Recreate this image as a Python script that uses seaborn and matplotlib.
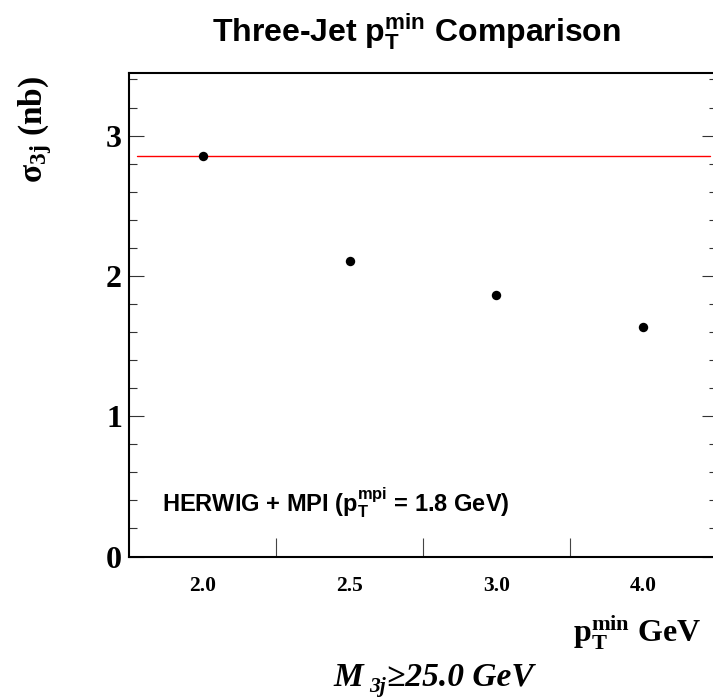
import matplotlib
matplotlib.use("Agg")
import matplotlib.pyplot as plt
import seaborn as sns
import pandas as pd
from matplotlib.ticker import MultipleLocator, FixedLocator

# ---- data ----
pt_min_labels = ["2.0", "2.5", "3.0", "4.0"]
sigma_3j = [2.855, 2.109, 1.862, 1.634]
reference_sigma = 2.853

sns.set_style("white")
plt.rcParams["text.color"] = "black"
plt.rcParams["axes.labelcolor"] = "black"
plt.rcParams["xtick.color"] = "black"
plt.rcParams["ytick.color"] = "black"
plt.rcParams["mathtext.fontset"] = "custom"
plt.rcParams["mathtext.rm"] = "Liberation Serif:bold"
plt.rcParams["mathtext.it"] = "Liberation Serif:bold:italic"
plt.rcParams["mathtext.bf"] = "Liberation Serif:bold"
plt.rcParams["mathtext.sf"] = "Liberation Sans:bold"

W, H = 713, 698
fig = plt.figure(figsize=(W / 100, H / 100), dpi=100)
ax = fig.add_axes([129 / W, 1 - 556.5 / H, (717 - 129) / W, (556.5 - 73.3) / H])

df = pd.DataFrame({"pt": pt_min_labels, "sigma": sigma_3j})
sns.scatterplot(data=df, x="pt", y="sigma", ax=ax, color="black", s=46,
                edgecolor="black", linewidth=0, zorder=3)
ax.axhline(reference_sigma, xmin=0.014, xmax=0.988, color="red", lw=1.0, zorder=2)

ax.set_xlim(-0.5, len(pt_min_labels) - 0.5)
ax.set_ylim(0, 3.444)
ax.set_xlabel("")
ax.set_ylabel("")

for side in ["left", "bottom", "top", "right"]:
    ax.spines[side].set_linewidth(1.5)
    ax.spines[side].set_color("black")

# y ticks
ax.yaxis.set_major_locator(MultipleLocator(1))
ax.yaxis.set_minor_locator(MultipleLocator(0.2))
ax.tick_params(axis="y", which="major", direction="in", length=11, width=0.8,
               left=True, right=True, pad=5, color="#333333", labelcolor="black")
ax.tick_params(axis="y", which="minor", direction="in", length=5.5, width=0.8,
               left=True, right=True, color="#333333")
for lab in ax.get_yticklabels():
    lab.set_fontfamily("Liberation Serif")
    lab.set_fontweight("bold")
    lab.set_fontsize(23)

# x ticks: labels at category centers, tick marks at bin edges
ax.xaxis.set_major_locator(FixedLocator(range(len(pt_min_labels))))
ax.set_xticklabels(pt_min_labels, fontfamily="Liberation Serif",
                   fontweight="bold", fontsize=15.5)
ax.xaxis.set_minor_locator(FixedLocator([i + 0.5 for i in range(len(pt_min_labels) - 1)]))
ax.tick_params(axis="x", which="major", length=0, pad=14, bottom=True, labelcolor="black")
ax.tick_params(axis="x", which="minor", direction="in", length=14, width=0.8,
               bottom=True, top=False, color="#444444")

# texts
fig.text(416 / W, 1 - 42 / H, r"Three-Jet $\mathsf{p_T^{min}}$ Comparison",
         ha="center", va="baseline", fontsize=23, fontweight="bold",
         family="Liberation Sans", color="black")

fig.text(35 / W, 1 - 129 / H, r"$\mathrm{\sigma_{3j}}$ (nb)", rotation=90,
         ha="center", va="center", fontsize=24, fontweight="bold",
         family="Liberation Serif", color="black")

fig.text(162 / W, 1 - 511 / H, r"HERWIG + MPI ($\mathsf{p_T^{mpi}}$ = 1.8 GeV)",
         ha="left", va="baseline", fontsize=17, fontweight="bold",
         family="Liberation Sans", color="black")

fig.text(701 / W, 1 - 642 / H, r"$\mathrm{p_T^{min}}$ GeV",
         ha="right", va="baseline", fontsize=23, fontweight="bold",
         family="Liberation Serif", color="black")

# bottom annotation: M, lowered subscript 3j, then the rest
renderer = fig.canvas.get_renderer()
base_y = 686
kw = dict(va="baseline", fontweight="bold", style="italic",
          family="Liberation Serif", color="black")
t1 = fig.text(333 / W, 1 - base_y / H, "M", ha="left", fontsize=24, **kw)
x1 = t1.get_window_extent(renderer).x1
t2 = fig.text((x1 + 7) / W, 1 - (base_y + 6) / H, "3j", ha="left", fontsize=15.5, **kw)
x2 = t2.get_window_extent(renderer).x1
fig.text((x2 + 1) / W, 1 - base_y / H, "≥25.0 GeV", ha="left", fontsize=24, **kw)

fig.savefig("out.png", dpi=100)
